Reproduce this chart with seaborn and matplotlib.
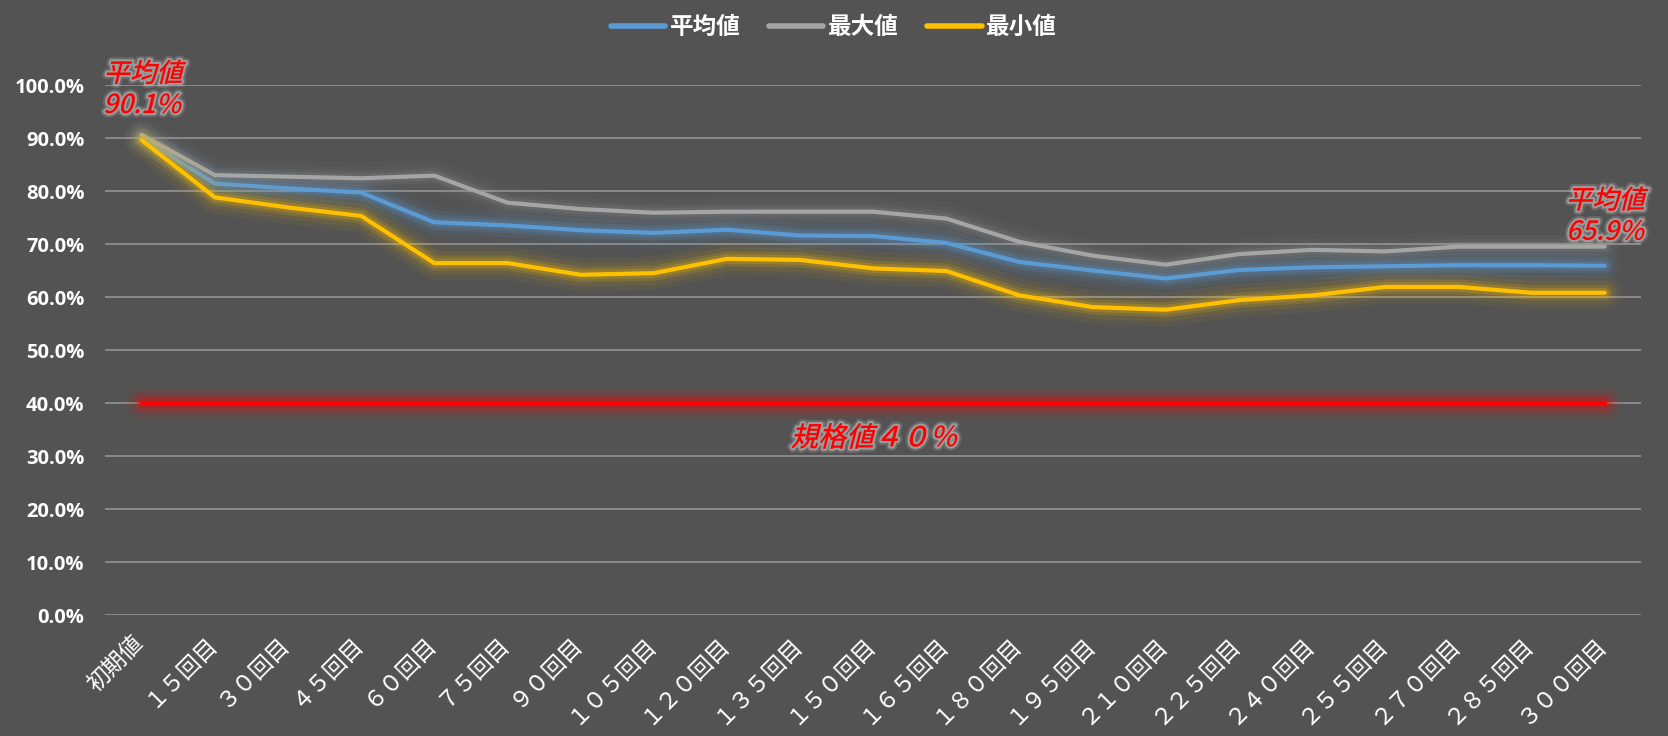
import matplotlib
matplotlib.use('Agg')
import matplotlib.pyplot as plt
import matplotlib.patheffects as pe
from matplotlib.transforms import Affine2D, ScaledTranslation
import numpy as np
import pandas as pd
import seaborn as sns

labels = ['初期値', '１５回目', '３０回目', '４５回目', '６０回目', '７５回目', '９０回目',
          '１０５回目', '１２０回目', '１３５回目', '１５０回目', '１６５回目', '１８０回目',
          '１９５回目', '２１０回目', '２２５回目', '２４０回目', '２５５回目', '２７０回目',
          '２８５回目', '３００回目']
avg = [90.1, 81.4, 80.5, 79.7, 74.1, 73.5, 72.6, 72.1, 72.7, 71.6, 71.5,
       70.2, 66.6, 65.0, 63.5, 65.1, 65.6, 65.8, 66.0, 66.0, 65.9]
mx = [90.6, 83.0, 82.7, 82.4, 82.9, 77.8, 76.6, 75.9, 76.1, 76.1, 76.1,
      74.8, 70.4, 67.8, 66.1, 68.1, 68.9, 68.6, 69.5, 69.5, 69.5]
mn = [89.6, 78.8, 76.9, 75.3, 66.4, 66.4, 64.2, 64.5, 67.2, 67.0, 65.4,
      64.9, 60.3, 58.1, 57.6, 59.4, 60.3, 61.9, 61.9, 60.8, 60.8]
spec = [40.0] * len(labels)

BG = '#535353'
sns.set_style('dark', {'axes.facecolor': BG, 'figure.facecolor': BG})
plt.rcParams['font.family'] = ['Noto Sans CJK JP', 'DejaVu Sans']


class Slant(pe.AbstractPathEffect):
    # fake italic: shear the text path, with a soft halo underneath
    def __init__(self, deg=14, halo=None, lw=0, alpha=1.0):
        super().__init__()
        self.deg = deg
        self.halo = halo
        self.lw = lw
        self.alpha = alpha

    def draw_path(self, renderer, gc, tpath, affine, rgbFace=None):
        v = affine.transform(tpath.vertices)
        y0 = v[:, 1].min() if len(v) else 0
        sk = Affine2D().translate(0, -y0).skew_deg(self.deg, 0).translate(0, y0)
        if self.halo is not None:
            for lw, a in [(self.lw * 2, self.alpha * 0.35), (self.lw, self.alpha)]:
                gc0 = renderer.new_gc()
                gc0.copy_properties(gc)
                gc0.set_foreground(self.halo)
                gc0.set_linewidth(lw)
                gc0.set_alpha(a)
                renderer.draw_path(gc0, tpath, affine + sk, None)
                gc0.restore()
        renderer.draw_path(gc, tpath, affine + sk, rgbFace)


def glow(color, a=1.0):
    return [pe.Stroke(linewidth=24, foreground=color, alpha=0.05 * a),
            pe.Stroke(linewidth=17, foreground=color, alpha=0.08 * a),
            pe.Stroke(linewidth=11, foreground=color, alpha=0.14 * a),
            pe.Stroke(linewidth=7, foreground=color, alpha=0.2 * a),
            pe.Normal()]


x = np.arange(len(labels))
df = pd.DataFrame({'x': x, '平均値': avg, '最大値': mx, '最小値': mn, 'spec': spec})

fig = plt.figure(figsize=(16.68, 7.36), dpi=100)
ax = fig.add_axes([0.063, 0.1644, 0.921, 0.7201])
ax.set_facecolor(BG)

series = [('平均値', '#5B9BD5', 1.0), ('最大値', '#A5A5A5', 0.6), ('最小値', '#FFC000', 1.0)]
for name, col, ga in series:
    sns.lineplot(data=df, x='x', y=name, ax=ax, color=col, lw=3, label=name,
                 path_effects=glow(col, ga), zorder=3)
sns.lineplot(data=df, x='x', y='spec', ax=ax, color='#FF0000', lw=3, legend=False,
             path_effects=glow('#FF0000', 1.2), zorder=3)

ax.set_xlim(-0.5, len(labels) - 0.5)
ax.set_ylim(0, 100)
ax.tick_params(axis='both', length=0)
ax.tick_params(axis='x', pad=9)
ax.tick_params(axis='y', pad=15)
ax.set_yticks(np.arange(0, 101, 10))
ax.set_yticklabels([f'{v:.1f}%' for v in np.arange(0, 101, 10)],
                   color='white', fontsize=14.5, fontweight='bold',
                   family=['Open Sans', 'DejaVu Sans'])
ax.set_xticks(x)
ax.set_xticklabels(labels, rotation=45, ha='right', rotation_mode='anchor',
                   color='white', fontsize=16.5)
# nudge the rotated labels so they end under their category
shift = ScaledTranslation(-10 / 100, -4 / 100, fig.dpi_scale_trans)
for t in ax.get_xticklabels():
    t.set_transform(t.get_transform() + shift)
ax.yaxis.grid(True, color='#8e8e8e', lw=1.3)
ax.xaxis.grid(False)
ax.set_axisbelow(True)
for s in ax.spines.values():
    s.set_visible(False)
ax.set_xlabel('')
ax.set_ylabel('')

ax.get_legend().remove()
h, l = ax.get_legend_handles_labels()
leg = fig.legend(h[:3], l[:3], loc='center', bbox_to_anchor=(0.5, 0.963), ncol=3,
                 frameon=False, handlelength=2.3, columnspacing=1.2, handletextpad=0.2,
                 prop={'family': ['Noto Sans CJK JP'], 'weight': 'bold', 'size': 17})
for t in leg.get_texts():
    t.set_color('white')
for ln in leg.get_lines():
    ln.set_path_effects([])
    ln.set_linewidth(4)

red_fx = [Slant(14, halo='#bdbdbd', lw=3, alpha=0.6)]
ax.text(-0.53, 94.7, '平均値\n90.1%', color='#FF0000', fontsize=19, fontweight='medium',
        ha='left', va='baseline', linespacing=1.2, clip_on=False, path_effects=red_fx)
ax.text(20.0, 70.8, '平均値\n65.9%', color='#FF0000', fontsize=19, fontweight='medium',
        ha='center', va='baseline', linespacing=1.2, clip_on=False, path_effects=red_fx)
ax.text(10.0, 33.4, '規格値４０％', color='#FF0000', fontsize=20, fontweight='medium',
        ha='center', va='center', clip_on=False, path_effects=red_fx)

fig.savefig('out.png', dpi=100, facecolor=BG)
